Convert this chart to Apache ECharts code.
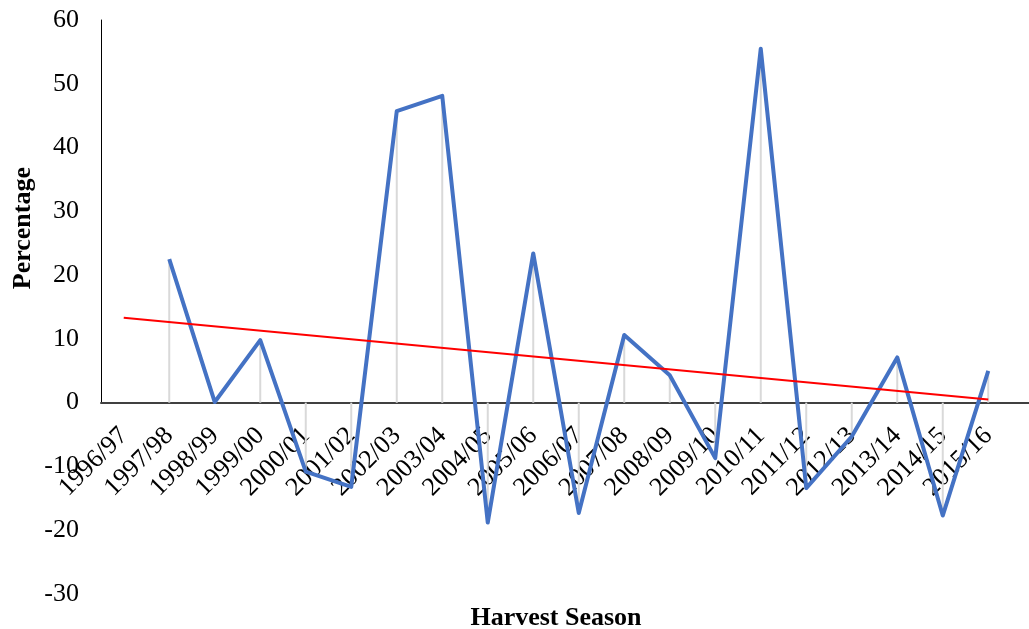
<!DOCTYPE html>
<html>
<head>
<meta charset="utf-8">
<style>
  html, body { margin: 0; padding: 0; background: #ffffff; }
  #chart { width: 1029px; height: 629px; }
</style>
<script src="https://cdn.jsdelivr.net/npm/echarts@6/dist/echarts.min.js"></script>
</head>
<body>
<div id="chart"></div>
<script>
// ---- Data ----
const categories = ['1996/97','1997/98','1998/99','1999/00','2000/01','2001/02','2002/03','2003/04','2004/05','2005/06',
                    '2006/07','2007/08','2008/09','2009/10','2010/11','2011/12','2012/13','2013/14','2014/15','2015/16'];
const changeValues = [null, 22.5, 0.1, 9.8, -10.8, -13.2, 45.7, 48.1, -18.8, 23.4,
                      -17.3, 10.6, 4.3, -8.7, 55.5, -13.4, -5.3, 7.1, -17.7, 5.0];
const trendStart = 13.3;   // linear trend value at 1996/97
const trendEnd = 0.5;      // linear trend value at 2015/16
const yTicks = { min: -30, max: 60, interval: 10 };
const xAxisTitle = 'Harvest Season';
const yAxisTitle = 'Percentage';

// endpoints only; the library draws the straight segment between them
const trendValues = categories.map((c, i) => i === 0 ? trendStart : (i === categories.length - 1 ? trendEnd : null));

const FONT = '"Liberation Serif", "Times New Roman", serif';
const chart = echarts.init(document.getElementById('chart'), null, { renderer: 'canvas' });

const hidden = { show: false };
chart.setOption({
  animation: false,
  backgroundColor: '#ffffff',
  grid: [
    // main plot area (-30 .. 60)
    { left: 101, right: 18, top: 20, bottom: 35, containLabel: false, outerBoundsMode: 'none' },
    // positive half (0 .. 60): axis lines crossing at zero
    { left: 101, right: 0, top: 20, bottom: 226.3, containLabel: false, outerBoundsMode: 'none' },
    // positive half with category labels at the zero line
    { left: 101, right: 18, top: 20, bottom: 226.3, containLabel: false, outerBoundsMode: 'none' }
  ],
  xAxis: [
    {
      type: 'category', gridIndex: 0, data: categories, boundaryGap: true,
      axisLine: hidden, axisTick: hidden, axisLabel: hidden, splitLine: hidden
    },
    {
      type: 'value', gridIndex: 1, min: 0, max: 1,
      axisLine: { show: true, lineStyle: { color: '#404040', width: 2 } },
      axisTick: hidden, axisLabel: hidden, splitLine: hidden
    },
    {
      type: 'category', gridIndex: 2, data: categories, boundaryGap: true, position: 'bottom',
      axisLine: hidden, axisTick: hidden, splitLine: hidden,
      axisLabel: {
        rotate: 45, interval: 0, margin: 29,
        align: 'right', verticalAlign: 'middle',
        fontFamily: FONT, fontSize: 26, color: '#000000', hideOverlap: false
      },
      name: xAxisTitle,
      nameLocation: 'middle',
      nameGap: 203,
      nameTextStyle: { fontFamily: FONT, fontSize: 26, fontWeight: 'bold', color: '#000000' }
    }
  ],
  yAxis: [
    {
      type: 'value', gridIndex: 0,
      min: yTicks.min, max: yTicks.max, interval: yTicks.interval,
      axisLine: hidden, axisTick: hidden, splitLine: hidden,
      axisLabel: { margin: 22, fontFamily: FONT, fontSize: 26, color: '#000000' }
    },
    {
      type: 'value', gridIndex: 1, min: 0, max: yTicks.max,
      axisLine: { show: true, lineStyle: { color: '#000000', width: 1 } },
      axisTick: hidden, axisLabel: hidden, splitLine: hidden
    },
    {
      type: 'value', gridIndex: 2, min: 0, max: yTicks.max, show: false
    }
  ],
  graphic: [
    {
      type: 'text',
      left: 10,
      top: 167,
      rotation: Math.PI / 2,
      style: { text: yAxisTitle, font: 'bold 26px ' + FONT, fill: '#000000' }
    }
  ],
  series: [
    {
      name: 'drop', type: 'bar', xAxisIndex: 0, yAxisIndex: 0,
      data: changeValues, barWidth: 2,
      itemStyle: { color: '#d9d9d9' }, z: 1, silent: true
    },
    {
      name: 'Change', type: 'line', xAxisIndex: 0, yAxisIndex: 0,
      data: changeValues, showSymbol: false,
      lineStyle: { color: '#4472C4', width: 4, join: 'round' },
      itemStyle: { color: '#4472C4' }, z: 3
    },
    {
      name: 'Trend', type: 'line', xAxisIndex: 0, yAxisIndex: 0,
      data: trendValues, connectNulls: true, showSymbol: false,
      lineStyle: { color: '#ff0000', width: 2 },
      itemStyle: { color: '#ff0000' }, z: 4
    }
  ]
});
</script>
</body>
</html>
